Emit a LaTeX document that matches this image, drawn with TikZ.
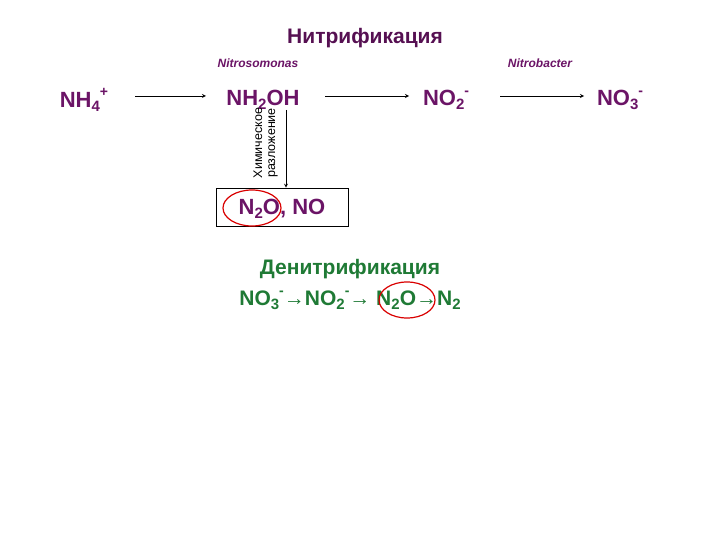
\documentclass[tikz,border=0pt]{standalone}
\usepackage{fontspec}
\setmainfont{Liberation Sans}
\definecolor{pur}{HTML}{6B1466}
\definecolor{grn}{HTML}{1F7A35}
\newcommand{\chsb}[1]{\raisebox{-0.35ex}{\fontsize{15}{15}\selectfont #1}}
\newcommand{\chsp}[1]{\raisebox{0.9ex}{\fontsize{14}{14}\selectfont #1}}
\begin{document}
\begin{tikzpicture}[x=1pt,y=-1pt,
  chem/.style={font=\fontsize{22}{26}\selectfont\bfseries,text=pur,inner sep=0pt},
  den/.style={font=\fontsize{21}{25}\selectfont\bfseries,text=grn,inner sep=0pt},
  bact/.style={font=\fontsize{12}{14}\selectfont\bfseries\itshape,text=pur},
  arr/.style={-stealth,line width=0.8pt},
  ring/.style={draw=red!85!black,line width=1.2pt}]
\useasboundingbox (0,0) rectangle (720,540);
\node[font=\fontsize{21}{25}\selectfont\bfseries,text=pur!80!black] (title) at (365,38) {Нитрификация};
\node[bact] (nsm) at (258,63) {Nitrosomonas};
\node[bact] (nbc) at (540,63) {Nitrobacter};
\node[chem] (nh4) at (84,100) {NH\chsb{4}\chsp{+}};
\node[chem] (nh2) at (263,100) {NH\chsb{2}OH};
\node[chem] (no2) at (446,100) {NO\chsb{2}\chsp{-}};
\node[chem] (no3) at (620,100) {NO\chsb{3}\chsp{-}};
\coordinate (a1) at (135,96); \coordinate (b1) at (206,96);
\coordinate (a2) at (325,96); \coordinate (b2) at (409,96);
\coordinate (a3) at (500,96); \coordinate (b3) at (584,96);
\draw[arr] (a1) -- (b1);
\draw[arr] (a2) -- (b2);
\draw[arr] (a3) -- (b3);
\node[draw,line width=0.6pt,minimum width=132pt,minimum height=38pt] (box) at (282,207) {};
\coordinate (v1) at (286,110);
\draw[arr] (v1) -- (box.north -| v1);
\node[rotate=90,font=\fontsize{12.5}{13}\selectfont,anchor=center] (l1) at (258,143) {Химическое};
\node[rotate=90,font=\fontsize{12.5}{13}\selectfont,anchor=center] (l2) at (273,143) {разложение};
\node[chem] (bx) at (282,209) {N\chsb{2}O, NO};
\draw[ring] (252,208) ellipse [x radius=29pt, y radius=18pt];
\node[den] (dn) at (350,269) {Денитрификация};
\node[den] (eq) at (350,300) {NO\chsb{3}\chsp{-}→NO\chsb{2}\chsp{-}→ N\chsb{2}O→N\chsb{2}};
\draw[ring] (407,300) ellipse [x radius=28pt, y radius=18pt];
\end{tikzpicture}
\end{document}
